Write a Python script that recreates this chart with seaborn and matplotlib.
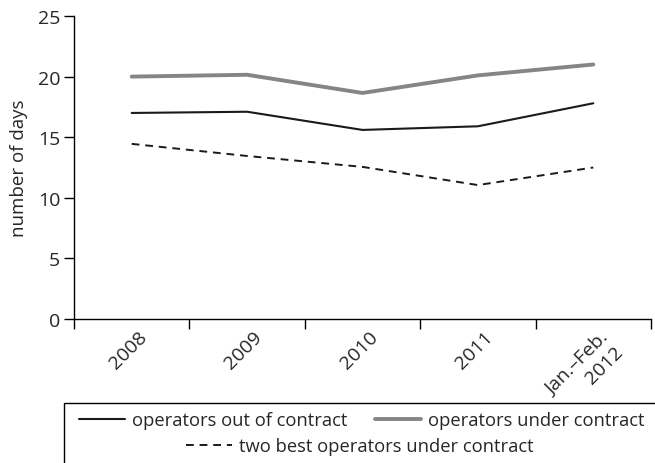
import numpy as np
import pandas as pd
import matplotlib
matplotlib.use("Agg")
import matplotlib.pyplot as plt
import matplotlib.transforms as mtransforms
from matplotlib.patches import Rectangle
from matplotlib.lines import Line2D
import seaborn as sns

categories = ["2008", "2009", "2010", "2011", "Jan.–Feb.\n2012"]
out_of_contract = [17.0, 17.1, 15.6, 15.9, 17.8]
under_contract = [20.0, 20.15, 18.65, 20.1, 21.0]
two_best = [14.45, 13.45, 12.55, 11.05, 12.5]
yticks = [0, 5, 10, 15, 20, 25]

sns.set_theme(style="white")
plt.rcParams['font.family'] = ['Open Sans', 'DejaVu Sans']

fig = plt.figure(figsize=(6.55, 4.64), dpi=100)
ax = fig.add_axes([74/655, 1-320/464, (651-74)/655, (320-17)/464])

x = np.arange(len(categories))
sns.lineplot(x=x, y=out_of_contract, ax=ax, color="#1a1a1a", linewidth=1.5)
sns.lineplot(x=x, y=under_contract, ax=ax, color="#858585", linewidth=2.8)
sns.lineplot(x=x, y=two_best, ax=ax, color="#1a1a1a", linewidth=1.4, linestyle=(0, (4, 3)))

ax.set_xlim(-0.5, len(categories) - 0.5)
ax.set_ylim(0, 25)
ax.set_yticks(yticks)
ax.set_yticklabels([str(v) for v in yticks], fontsize=14)
ax.set_xticks(np.arange(-0.5, len(categories)))
ax.set_xticklabels([])
ax.set_xticks(x, minor=True)
ax.set_xticklabels(categories, minor=True, rotation=45, ha='right',
                   rotation_mode='anchor', fontsize=14, multialignment='right')
ax.tick_params(axis='x', which='minor', length=0, pad=6)
ax.tick_params(axis='both', which='major', direction='out', length=7, width=1,
               color='black', left=True, bottom=True)
ax.tick_params(axis='y', pad=3)
ax.set_ylabel("number of days", fontsize=13.5, labelpad=7)
for s in ['top', 'right']:
    ax.spines[s].set_visible(False)
for s in ['left', 'bottom']:
    ax.spines[s].set_color('black')
    ax.spines[s].set_linewidth(1)

offset = mtransforms.ScaledTranslation(6/100, 0, fig.dpi_scale_trans)
for lab in ax.get_xticklabels(minor=True):
    lab.set_transform(lab.get_transform() + offset)

# legend frame
fig.patches.append(Rectangle((64/655, -0.05), 0.98, 1-404/464+0.05,
                             transform=fig.transFigure, fill=False,
                             edgecolor='black', linewidth=1))
h1 = [Line2D([], [], color="#1a1a1a", linewidth=1.5),
      Line2D([], [], color="#858585", linewidth=2.8)]
leg1 = fig.legend(h1, ["operators out of contract", "operators under contract"],
                  ncol=2, loc='center', bbox_to_anchor=(362/655, 1-421/464),
                  frameon=False, fontsize=13.2, handlelength=2.5, handletextpad=0.4,
                  columnspacing=1.5, borderpad=0, borderaxespad=0)
h2 = [Line2D([], [], color="#1a1a1a", linewidth=1.4, linestyle=(0, (4, 3)))]
leg2 = fig.legend(h2, ["two best operators under contract"],
                  loc='center', bbox_to_anchor=(360/655, 1-447/464),
                  frameon=False, fontsize=13.2, handlelength=2.5, handletextpad=0.4,
                  borderpad=0, borderaxespad=0)

fig.savefig("out.png", dpi=100)
